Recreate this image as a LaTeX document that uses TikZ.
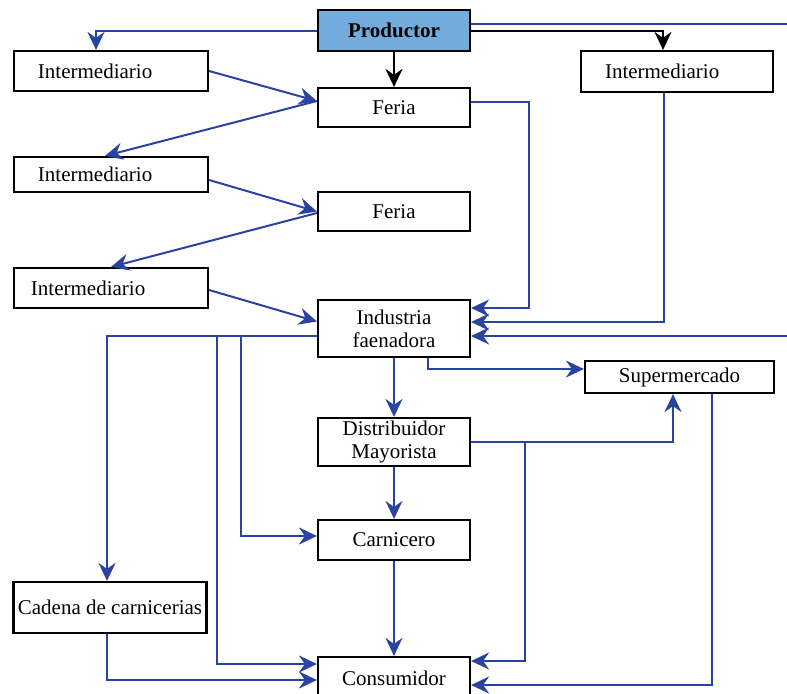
\documentclass[tikz,border=0pt]{standalone}
\usepackage{fontspec}
\setmainfont{Liberation Serif}
\usetikzlibrary{arrows.meta}
\definecolor{flowBlue}{RGB}{43,67,160}
\definecolor{prodBlue}{RGB}{116,171,221}
\tikzstyle{boxStyle}=[shape = rectangle, draw, line width = 1.1pt, fill = white, inner sep = 1pt, align = center, font = \fontsize{10.5}{11.5}\selectfont]
\tikzstyle{interStyle}=[boxStyle, inner xsep = 12pt, text width = 73pt, align = left]
\tikzstyle{flowStyle}=[draw = flowBlue, line width = 1pt, -{Stealth[length = 9pt, width = 8.5pt, inset = 3pt]}]

\begin{document}
\begin{tikzpicture}[x = 0.5pt, y = -0.5pt]
\tikzstyle{blackStyle}=[draw = black, line width = 1pt, -{Stealth[length = 9pt, width = 8.5pt, inset = 3pt]}]
\useasboundingbox (0,0) rectangle (787,693);
\coordinate (edgeR) at (800,0);
\node[boxStyle, fill = prodBlue, minimum width = 76pt, minimum height = 20.5pt, font = \fontsize{10.5}{11.5}\selectfont\bfseries] (prod) at (394,30.5) {Productor};
\node[interStyle, minimum height = 20pt] (intA) at (111,71) {Intermediario};
\node[interStyle, text width = 72pt, minimum height = 20.5pt] (intR) at (677,71.5) {Intermediario};
\node[boxStyle, minimum width = 76pt, minimum height = 19.5pt] (feriaA) at (394,107.5) {Feria};
\node[interStyle, minimum height = 17.5pt] (intB) at (111,174.5) {Intermediario};
\node[boxStyle, minimum width = 76pt, minimum height = 19.5pt] (feriaB) at (394,211.5) {Feria};
\node[interStyle, inner xsep = 8.5pt, text width = 80pt, minimum height = 20pt] (intC) at (111,288) {Intermediario};
\node[boxStyle, minimum width = 76pt, minimum height = 28.5pt] (ind) at (394,328.5) {Industria\\faenadora};
\node[boxStyle, minimum width = 94.5pt, minimum height = 16pt] (super) at (679.5,377) {Supermercado};
\node[boxStyle, minimum width = 76pt, minimum height = 24pt] (dist) at (394,442) {Distribuidor\\Mayorista};
\node[boxStyle, minimum width = 76pt, minimum height = 20pt] (carn) at (394,540) {Carnicero};
\node[boxStyle, minimum width = 96.5pt, minimum height = 25.5pt] (cad) at (110,607.5) {Cadena de carnicerias};
\node[boxStyle, minimum width = 76pt, minimum height = 21pt] (cons) at (394,678) {Consumidor};
\draw[flowStyle] (prod.west) -| ([xshift = -7.5pt]intA.north);
\draw[blackStyle, line width = 1.4pt] (prod.south) -- (feriaA.north);
\draw[blackStyle] (prod.east) -| ([xshift = -7pt]intR.north);
\draw[flowStyle] ([yshift = 3.25pt]prod.east) -- ([yshift = 3.25pt]prod.east -| edgeR) |- ([yshift = -3.75pt]ind.east);
\draw[flowStyle] (intA.east) -- ([yshift = 3.25pt]feriaA.west);
\draw[flowStyle] ([yshift = 3.25pt]feriaA.west) -- ([xshift = -3pt]intB.north);
\draw[flowStyle] ([yshift = -2.75pt]intB.east) -- (feriaB.west);
\draw[flowStyle] ([yshift = -0.75pt]feriaB.west) -- (intC.north);
\draw[flowStyle] ([yshift = -1pt]intC.east) -- ([yshift = 3.5pt]ind.west);
\draw[flowStyle] ([yshift = 3pt]feriaA.east) -- ++(58,0) |- ([yshift = 10.25pt]ind.east);
\draw[flowStyle] ([xshift = -6.5pt]intR.south) |- ([yshift = 3.25pt]ind.east);
\draw[flowStyle] ([yshift = -3.5pt]ind.west) -| ([xshift = -1.5pt]cad.north);
\draw[flowStyle] ([xshift = -50pt, yshift = -3.5pt]ind.west) |- ([yshift = 7pt]cons.west);
\draw[flowStyle] ([xshift = -38pt, yshift = -3.5pt]ind.west) |- ([yshift = 2pt]carn.west);
\draw[flowStyle] (ind.south) -- (dist.north);
\draw[flowStyle] ([xshift = 17pt]ind.south) |- ([yshift = 4pt]super.west);
\draw[flowStyle] (dist.south) -- (carn.north);
\draw[flowStyle] (dist.east) -| ([xshift = -3.25pt]super.south);
\draw[flowStyle] ([xshift = 27pt]dist.east) |- ([yshift = 8.5pt]cons.east);
\draw[flowStyle] ([xshift = 16.25pt]super.south) |- ([yshift = -3.5pt]cons.east);
\draw[flowStyle] (carn.south) -- (cons.north);
\draw[flowStyle] ([xshift = -1.5pt]cad.south) |- ([yshift = -1pt]cons.west);
\end{tikzpicture}
\end{document}
